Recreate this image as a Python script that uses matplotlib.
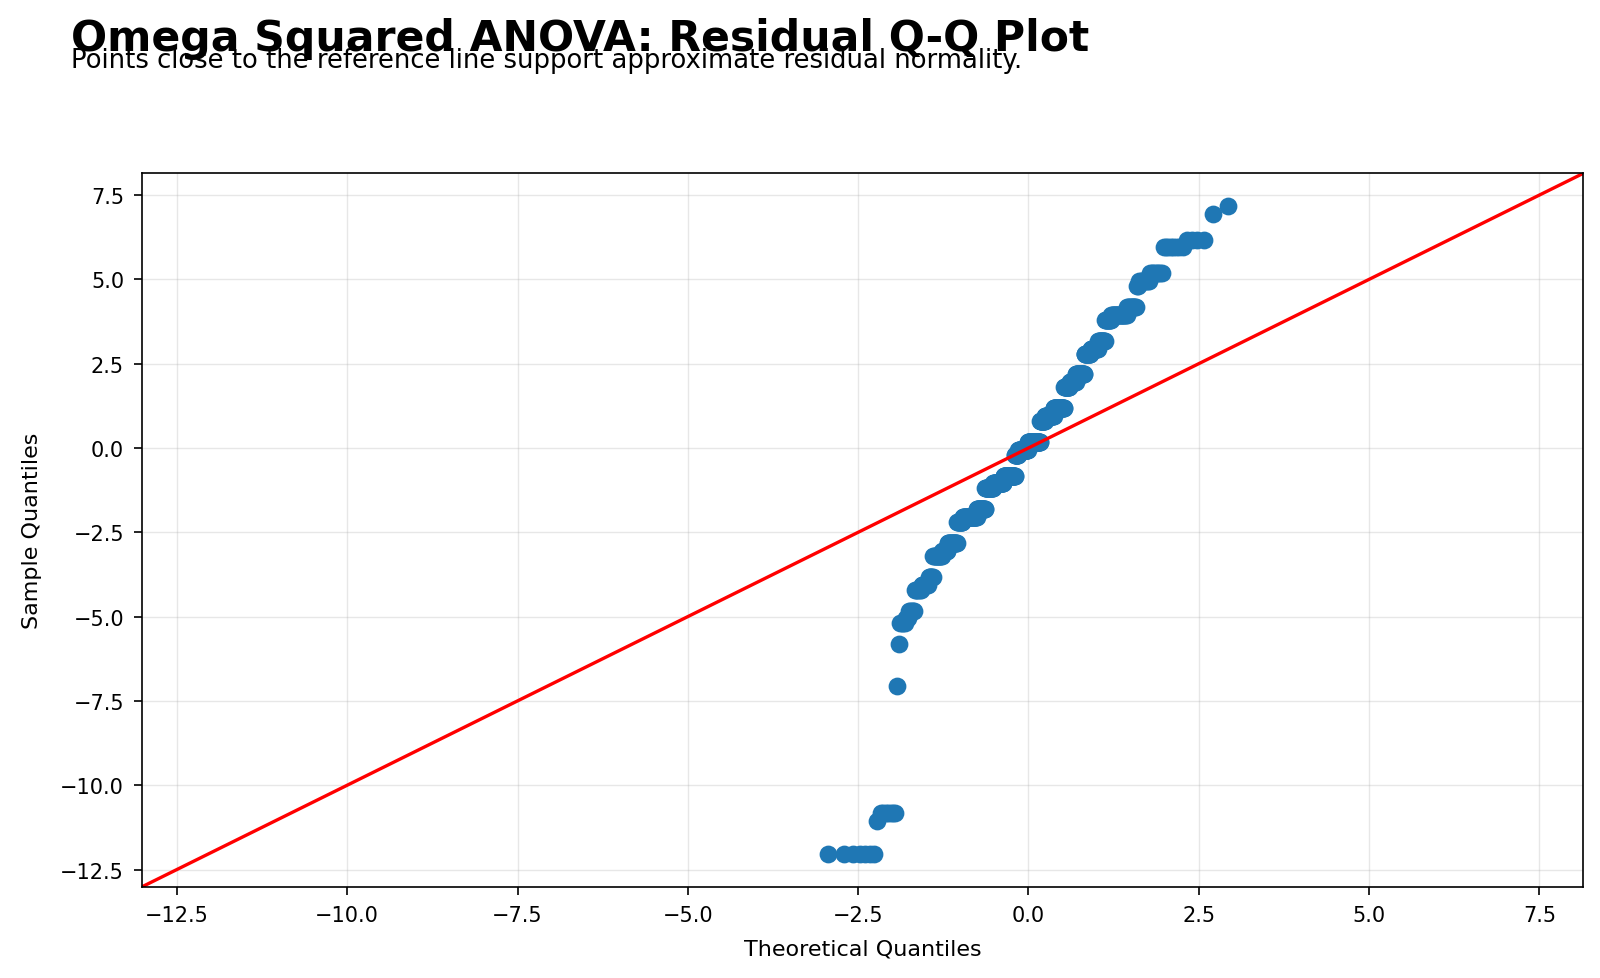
import numpy as np
import matplotlib
matplotlib.use('Agg')
import matplotlib.pyplot as plt
from statistics import NormalDist

# residual values (ties) and how many residuals take each value
resid_levels = [-12.05, -11.05, -10.82, -7.05, -5.82,
                -5.2, -5.05, -4.82, -4.2, -4.05, -3.82,
                -3.2, -3.05, -2.82, -2.2, -2.05, -1.82,
                -1.2, -1.05, -0.82, -0.2, -0.05, 0.18,
                0.8, 0.95, 1.18, 1.8, 1.95, 2.18,
                2.8, 2.95, 3.18, 3.8, 3.95, 4.18,
                4.8, 4.95, 5.18, 5.95, 6.18, 6.95, 7.18]
resid_counts = [7, 1, 7, 1, 1,
                4, 2, 5, 6, 8, 6,
                13, 9, 18, 12, 34, 23,
                24, 33, 39, 11, 34, 43,
                16, 30, 33, 16, 18, 23,
                15, 16, 14, 11, 23, 11,
                2, 9, 8, 8, 4, 1, 1]

title = "Omega Squared ANOVA: Residual Q-Q Plot"
subtitle = "Points close to the reference line support approximate residual normality."

resid = np.repeat(resid_levels, resid_counts)
n = len(resid)
# plotting positions i/(n+1), as in statsmodels ProbPlot
pos = np.arange(1, n + 1) / (n + 1)
theo = np.array([NormalDist().inv_cdf(p) for p in pos])

fig = plt.figure(figsize=(8, 4.895), dpi=200)
ax = fig.add_axes([0.0888, 0.0932, 0.9006, 0.7286])

ax.plot(theo, resid, 'o', color='#1f77b4', markersize=5.4, linestyle='none')

# 45 degree line across the common range
xl = ax.get_xlim()
yl = ax.get_ylim()
ends = [min(xl[0], yl[0]), max(xl[1], yl[1])]
ax.plot(ends, ends, color='red', lw=1.2)
ax.set_xlim(ends)
ax.set_ylim(ends)

ax.set_xticks(np.arange(-12.5, 8, 2.5))
ax.set_yticks(np.arange(-12.5, 8, 2.5))
ax.tick_params(labelsize=7.5, width=0.6, length=3)
ax.grid(True, alpha=0.3, lw=0.5)
for s in ax.spines.values():
    s.set_linewidth(0.6)

ax.set_xlabel("Theoretical Quantiles", fontsize=8, labelpad=5)
ax.set_ylabel("Sample Quantiles", fontsize=8, labelpad=6.5)

fig.text(0.0446, 0.948, title, fontsize=15.3, fontweight='bold', va='baseline')
fig.text(0.0446, 0.931, subtitle, fontsize=9.3, va='baseline')

fig.savefig('out.png', dpi=200)
